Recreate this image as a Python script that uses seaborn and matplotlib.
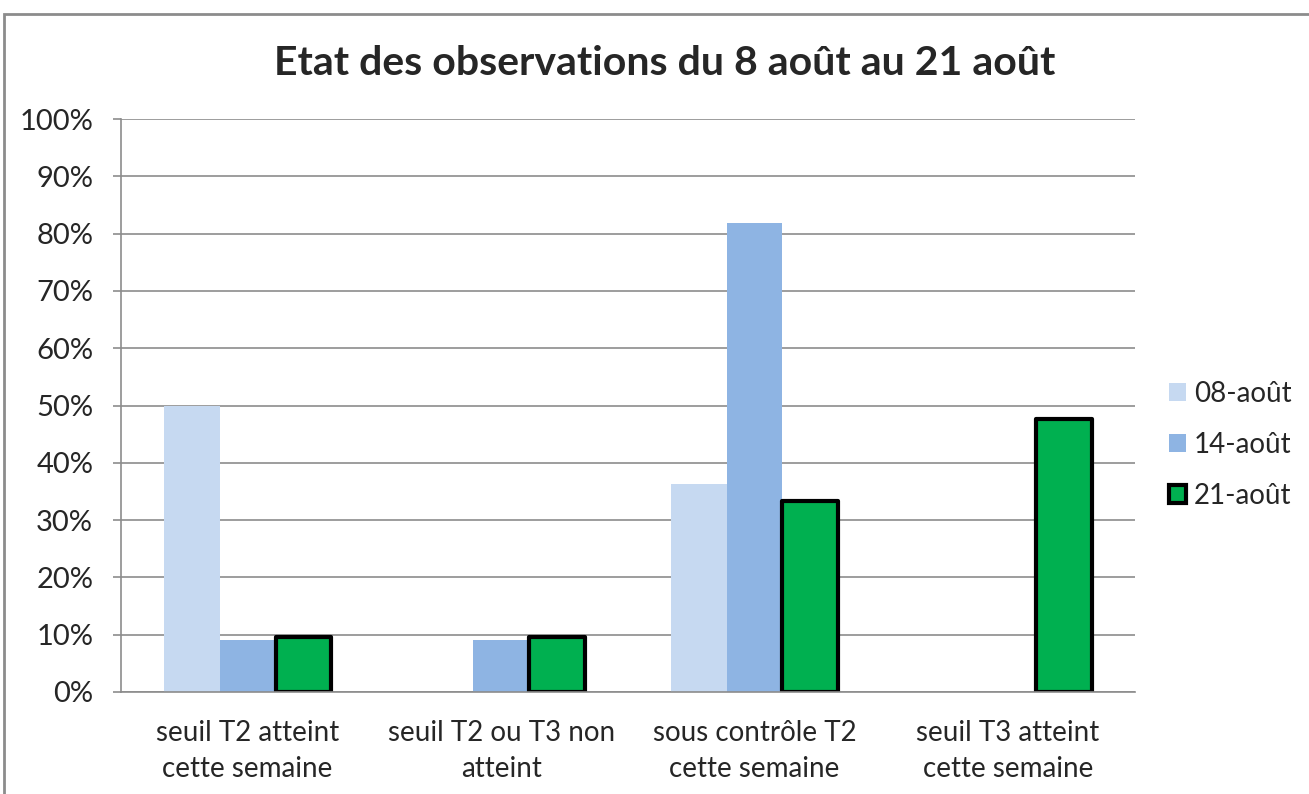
from matplotlib import pyplot as plt
from matplotlib.patches import Rectangle
import pandas as pd
import seaborn as sns

# Share of observations per status, for each weekly date
categories = ['seuil T2 atteint\ncette semaine', 'seuil T2 ou T3 non\natteint',
              'sous contrôle T2\ncette semaine', 'seuil T3 atteint\ncette semaine']
dates = ['08-août', '14-août', '21-août']
v_08 = [50.0, 0.0, 36.36, 0.0]
v_14 = [9.09, 9.09, 81.82, 0.0]
v_21 = [9.52, 9.52, 33.33, 47.62]
colors = ['#c6d9f1', '#8eb4e3', '#00b050']
yticks = [0, 10, 20, 30, 40, 50, 60, 70, 80, 90, 100]

df = pd.DataFrame({
    'Statut': categories * 3,
    'Date': [d for d in dates for _ in categories],
    'Pourcentage': v_08 + v_14 + v_21,
})

sns.set_style('white')
plt.rcParams['font.family'] = ['Lato', 'DejaVu Sans']

fig = plt.figure(figsize=(13.09, 7.94), dpi=100)
ax = fig.add_axes([0.0924, 0.1285, 0.7745, 0.7215])

sns.barplot(data=df, x='Statut', y='Pourcentage', hue='Date', order=categories,
            hue_order=dates, palette=colors, width=0.66, saturation=1,
            linewidth=0, ax=ax, legend=False)

# the last series has a thick black outline
n = len(categories)
for bar in ax.patches[2 * n:3 * n]:
    bar.set_edgecolor('black')
    bar.set_linewidth(3)
    bar.set_joinstyle('round')

ax.set_ylim(0, 100)
ax.set_xlim(-0.5, n - 0.5)
ax.set_yticks(yticks)
ax.set_yticklabels([f'{t}%' for t in yticks], fontsize=21)
ax.yaxis.grid(True, color='#8c8c8c', linewidth=1.2)
ax.set_axisbelow(True)
ax.set_xlabel('')
ax.set_ylabel('')
ax.tick_params(axis='x', which='major', length=0, pad=20, labelsize=20)
ax.set_xticks([i - 0.5 for i in range(n + 1)], minor=True)
ax.tick_params(axis='x', which='minor', length=7, color='#8c8c8c', width=1.2)
ax.tick_params(axis='y', length=6, color='#8c8c8c', width=1.2, left=True, pad=14)
for lbl in ax.get_xticklabels():
    lbl.set_linespacing(1.5)

for side in ['top', 'right']:
    ax.spines[side].set_visible(False)
for side in ['left', 'bottom']:
    ax.spines[side].set_color('#8c8c8c')
    ax.spines[side].set_linewidth(1.2)

handles = [Rectangle((0, 0), 1, 1, facecolor=colors[0], linewidth=0),
           Rectangle((0, 0), 1, 1, facecolor=colors[1], linewidth=0),
           Rectangle((0, 0), 1, 1, facecolor=colors[2], edgecolor='black', linewidth=3)]
fig.legend(handles, dates, loc='center left', bbox_to_anchor=(0.874, 0.44),
           frameon=False, fontsize=20, handlelength=0.6, handleheight=0.6,
           handletextpad=0.3, labelspacing=0.9)

fig.text(0.508, 0.92, 'Etat des observations du 8 août au 21 août',
         ha='center', va='center', fontsize=29.5, fontweight='bold')

# outer chart frame
fig.patches.append(Rectangle((0.003, -0.05), 1.2, 1.032, transform=fig.transFigure,
                             fill=False, edgecolor='#8c8c8c', linewidth=2))

plt.savefig('out.png', dpi=100)
